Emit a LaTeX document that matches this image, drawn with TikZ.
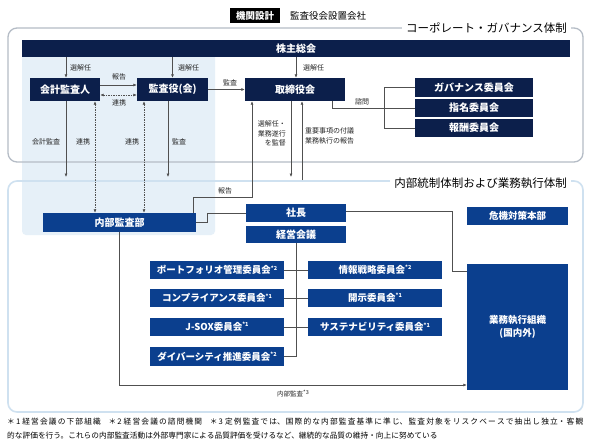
\documentclass[tikz,border=0pt]{standalone}
\usepackage{fontspec}
\setmainfont{Noto Sans CJK JP}
\usetikzlibrary{arrows.meta}
\definecolor{navy}{HTML}{0C1F4B}
\definecolor{mblue}{HTML}{0B3F8E}
\definecolor{lightreg}{HTML}{E6F0F8}
\definecolor{framegrey}{HTML}{B5BCC6}
\definecolor{frameblue}{HTML}{CFE1F0}
\definecolor{linec}{HTML}{505050}
\newcommand\supk[1]{\raisebox{0.38em}{\fontsize{5.5}{6}\selectfont #1}}
\begin{document}
\begin{tikzpicture}[x=1pt,y=-1pt,
 navybox/.style={fill=navy,text=white,inner sep=0,font=\fontsize{10}{12}\selectfont\bfseries},
 bluebox/.style={fill=mblue,text=white,inner sep=0,font=\fontsize{9.5}{12}\selectfont\bfseries},
 lbl/.style={font=\fontsize{7}{9.5}\selectfont,text=black!85,inner sep=0},
 conn/.style={draw=linec,line width=0.6pt},
 arr/.style={conn,-{Latex[length=3.5pt,width=3pt]}},
 darr/.style={conn,dash pattern=on 1.5pt off 1pt,{Latex[length=3.5pt,width=3pt]}-{Latex[length=3.5pt,width=3pt]}},
 ftitle/.style={fill=white,inner xsep=4pt,inner ysep=1pt,font=\fontsize{11.5}{13}\selectfont,text=black}]
\useasboundingbox (0,0) rectangle (593,442);
\fill[white] (0,0) rectangle (593,442);
% header
\node[fill=black,text=white,inner sep=0,minimum width=50pt,minimum height=15pt,font=\fontsize{9.5}{11}\selectfont\bfseries] (kikan) at (255,15.5) {機関設計};
\node[anchor=west,inner sep=0,font=\fontsize{9.5}{11}\selectfont] (settei) at (290,15.5) {監査役会設置会社};
% light region
\fill[lightreg,rounded corners=4pt] (22,50) rectangle (215,235);
% frames
\draw[framegrey,line width=1.3pt,rounded corners=9pt] (8,28) rectangle (583,162);
\draw[frameblue,line width=1.6pt,rounded corners=9pt] (8,181) rectangle (583,412);
\node[ftitle,anchor=east] (t1) at (571,28) {コーポレート・ガバナンス体制};
\node[ftitle,anchor=east] (t2) at (571,183) {内部統制体制および業務執行体制};
% top boxes
\node[navybox,minimum width=548pt,minimum height=17pt] (kabu) at (296,48.5) {株主総会};
\node[navybox,minimum width=70pt,minimum height=23pt] (kaikei) at (65,89.5) {会計監査人};
\node[navybox,minimum width=71pt,minimum height=23pt] (kansa) at (172.5,89.5) {監査役(会)};
\node[navybox,minimum width=100pt,minimum height=23pt] (tori) at (295,89.5) {取締役会};
\node[navybox,minimum width=118pt,minimum height=19pt] (gov) at (474,87.5) {ガバナンス委員会};
\node[navybox,minimum width=118pt,minimum height=18pt] (shimei) at (474,108) {指名委員会};
\node[navybox,minimum width=118pt,minimum height=18pt] (hoshu) at (474,128) {報酬委員会};
% lower boxes
\node[bluebox,minimum width=153pt,minimum height=19pt,font=\fontsize{10}{12}\selectfont\bfseries] (naibu) at (119.5,222.5) {内部監査部};
\node[bluebox,minimum width=100pt,minimum height=18pt,font=\fontsize{10}{12}\selectfont\bfseries] (shacho) at (296,213) {社長};
\node[bluebox,minimum width=100pt,minimum height=17pt,font=\fontsize{10}{12}\selectfont\bfseries] (keiei) at (296,234.5) {経営会議};
\node[bluebox,minimum width=101pt,minimum height=18pt] (kiki) at (517.5,216) {危機対策本部};
\node[bluebox,minimum width=101pt,minimum height=126pt,align=center,font=\fontsize{9.5}{12.5}\selectfont\bfseries] (gyomu) at (517.5,327) {業務執行組織\\(国内外)};
\node[bluebox,minimum width=134pt,minimum height=18pt] (port) at (217,270) {ポートフォリオ管理委員会\supk{*2}};
\node[bluebox,minimum width=134pt,minimum height=18pt] (comp) at (217,298) {コンプライアンス委員会\supk{*1}};
\node[bluebox,minimum width=134pt,minimum height=18pt] (jsox) at (217,327) {J-SOX委員会\supk{*1}};
\node[bluebox,minimum width=134pt,minimum height=19pt] (div) at (217,356.5) {ダイバーシティ推進委員会\supk{*2}};
\node[bluebox,minimum width=134pt,minimum height=18pt] (info) at (375,270) {情報戦略委員会\supk{*2}};
\node[bluebox,minimum width=134pt,minimum height=18pt] (kaiji) at (375,298) {開示委員会\supk{*1}};
\node[bluebox,minimum width=134pt,minimum height=18pt] (sust) at (375,327) {サステナビリティ委員会\supk{*1}};
% connectors top
\draw[arr] ([xshift=1pt]kaikei.north |- kabu.south) -- ([xshift=1pt]kaikei.north);
\draw[arr] (kansa.north |- kabu.south) -- (kansa.north);
\draw[arr] ([xshift=1pt]tori.north |- kabu.south) -- ([xshift=1pt]tori.north);
\node[lbl,anchor=west] (l1) at (70,67.5) {選解任};
\node[lbl,anchor=west] (l2) at (178,67.5) {選解任};
\node[lbl,anchor=west] (l3) at (303,67.5) {選解任};
\draw[arr] ([yshift=4.5pt]kaikei.east) -- ([yshift=4.5pt]kansa.west);
\node[lbl] (l4) at (119,76.5) {報告};
\draw[darr] ([yshift=-5.5pt]kaikei.east) -- ([yshift=-5.5pt]kansa.west);
\node[lbl] (l5) at (119,103) {連携};
\draw[arr] (kansa.east) -- (tori.west);
\node[lbl] (l6) at (230,83) {監査};
% kansa/kaikei down
\coordinate (e1) at (66,177);
\draw[arr] (e1 |- kaikei.south) -- (e1);
\node[lbl] (l7) at (46,142) {会計監査};
\draw[darr] ([xshift=30pt]kaikei.south) -- ([xshift=30pt]kaikei.south |- naibu.north);
\node[lbl] (l8) at (83,142) {連携};
\draw[darr] ([xshift=-28.5pt]kansa.south) -- ([xshift=-28.5pt]kansa.south |- naibu.north);
\node[lbl] (l9) at (132,142) {連携};
\coordinate (e2) at (168,177);
\draw[arr] (e2 |- kansa.south) -- (e2);
\node[lbl] (l10) at (179,142) {監査};
% tori to committees
\draw[conn] ([xshift=37pt]tori.south) |- (shimei.west);
\draw[conn] (gov.west) -- ++(-31,0) |- (hoshu.west);
\node[lbl] (l11) at (362,101.5) {諮問};
% tori down/up
\coordinate (e3) at (291,177);
\draw[arr] (e3 |- tori.south) -- (e3);
\node[lbl,anchor=east,align=right] (l12) at (286,133.5) {選解任・\\業務遂行\\を監督};
\coordinate (e4) at (302,180);
\draw[arr] (e4) -- (e4 |- tori.south);
\node[lbl,anchor=west,align=left] (l13) at (305,136) {重要事項の付議\\業務執行の報告};
% naibu report
\coordinate (r1) at (193,197);
\draw[arr] (r1 |- naibu.north) -- (r1) -| ([xshift=-43pt]tori.south);
\node[lbl] (l14) at (225,191) {報告};
\coordinate (r2) at (207,222.5);
\draw[conn] (naibu.east) -- (r2) |- (shacho.west);
% shacho to gyomu
\coordinate (g1) at (452,271);
\draw[conn] ([yshift=2pt]shacho.east) -| (g1) -- (g1 -| gyomu.west);
% trunk
\draw[conn] (keiei.south) |- (div.east);
\draw[conn] (port.east) -- (info.west);
\draw[conn] (comp.east) -- (kaiji.west);
\draw[conn] (jsox.east) -- (sust.west);
% internal audit
\coordinate (ia) at (119.5,385);
\draw[arr] (naibu.south) -- (ia) -- (ia -| gyomu.west);
\node[lbl,font=\fontsize{6.5}{8}\selectfont] (l15) at (293,393.5) {内部監査\supk{*3}};
% footnotes
\node[anchor=base west,inner sep=0,font=\fontsize{7.7}{14}\selectfont] (fn) at (7,424.5) {\parbox[t]{576pt}{\XeTeXlinebreaklocale "ja"\XeTeXlinebreakskip=0pt plus 3pt\relax
＊1 経営会議の下部組織\quad ＊2 経営会議の諮問機関\quad ＊3 定例監査では、国際的な内部監査基準に準じ、監査対象をリスクベースで抽出し独立・客観\linebreak 的な評価を行う。これらの内部監査活動は外部専門家による品質評価を受けるなど、継続的な品質の維持・向上に努めている}};
\end{tikzpicture}
\end{document}
